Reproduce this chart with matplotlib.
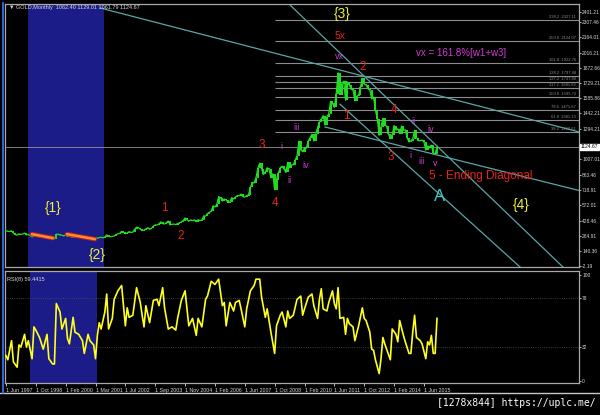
import numpy as np
import matplotlib
matplotlib.use("Agg")
import matplotlib.pyplot as plt
from matplotlib.lines import Line2D
import matplotlib.transforms as mtransforms

plt.rcParams['font.family'] = ['Liberation Sans', 'DejaVu Sans']

# monthly closes, one per bar (broker feed, Jun 1997 .. Jan 2016)
closes = [
    334, 326, 325, 332, 311, 296, 290,
    303, 297, 301, 310, 293, 296, 288, 273, 293, 292, 294, 288,
    287, 287, 280, 286, 268, 261, 255, 254, 299, 299, 292, 290,
    283, 293, 277, 281, 274, 272, 276, 288, 277, 279, 277, 273, 264, 270, 273,
    265, 267, 258, 264, 267, 270, 266, 273, 293, 279, 275, 279,
    282, 297, 303, 308, 327, 318, 304, 312, 324, 317, 318, 347,
    367, 360, 347, 334, 337, 350, 361, 346, 354, 375, 388, 386, 398, 416,
    399, 396, 410, 424, 388, 393, 395, 391, 400, 407, 416, 428, 453, 438,
    422, 435, 428, 435, 417, 437, 429, 433, 473, 470, 495, 505, 517,
    569, 556, 582, 654, 643, 613, 633, 623, 599, 604, 646, 632,
    650, 665, 662, 679, 655, 650, 665, 672, 743, 789, 783, 834,
    923, 971, 916, 864, 885, 928, 912, 833, 871, 718, 815, 880,
    928, 942, 916, 883, 979, 927, 954, 955, 1001, 1040, 1180, 1096,
    1081, 1117, 1113, 1180, 1213, 1245, 1181, 1248, 1307, 1357, 1385, 1421,
    1332, 1410, 1439, 1556, 1536, 1500, 1628, 1826, 1620, 1722, 1746, 1565,
    1737, 1711, 1668, 1664, 1560, 1604, 1614, 1692, 1773, 1719, 1712, 1675,
    1662, 1579, 1596, 1472, 1393, 1234, 1313, 1395, 1327, 1323, 1250, 1202,
    1240, 1326, 1284, 1296, 1250, 1322, 1282, 1287, 1210, 1172, 1183, 1199,
    1283, 1213, 1183, 1183, 1190, 1172, 1095, 1134, 1115, 1142, 1065, 1061,
    1124.67,
]

# RSI(8) (bar, value)
rsi_bar = [0, 1, 3, 4, 6, 7, 8, 10, 11, 12, 14, 15, 16, 18, 20, 22, 23, 25, 26, 27,
           29, 30, 32, 33, 34, 36, 37, 39, 41, 42, 44, 45, 47, 48, 49, 50, 51, 53, 54, 55,
           57, 58, 60, 62, 64, 65, 66, 68, 70, 72, 73, 74, 75, 77, 79, 81, 82, 84, 85, 87,
           89, 91, 92, 94, 96, 97, 98, 100, 102, 103, 105, 107, 108, 110, 112, 114, 116, 117, 118, 120,
           122, 123, 125, 126, 128, 129, 131, 133, 134, 136, 137, 139, 140, 142, 144, 145, 147, 148, 150, 151,
           152, 154, 156, 158, 159, 160, 162, 164, 165, 167, 168, 169, 170, 172, 173, 175, 176, 177, 178, 179,
           181, 182, 183, 184, 186, 187, 189, 191, 192, 193, 195, 196, 197, 198, 200, 201, 202, 203, 204, 206,
           207, 209, 210, 211, 213, 214, 216, 217, 218, 219, 220, 222, 223, 225, 226, 227, 228, 229, 230, 231]
rsi_val = [24, 20, 38, 18, 13, 34, 32, 44, 32, 38, 21, 51, 48, 41, 30, 44, 21, 16, 16, 73,
           65, 49, 59, 40, 35, 60, 46, 44, 38, 26, 44, 38, 34, 21, 43, 55, 49, 65, 82, 49,
           59, 77, 85, 90, 52, 69, 60, 62, 88, 74, 62, 51, 71, 55, 76, 77, 71, 88, 69, 49,
           51, 48, 59, 76, 85, 68, 52, 59, 43, 59, 51, 77, 80, 94, 91, 96, 71, 74, 52, 74,
           66, 74, 76, 68, 51, 68, 85, 90, 96, 96, 79, 60, 68, 46, 26, 52, 62, 65, 51, 66,
           59, 62, 77, 80, 62, 68, 79, 82, 71, 59, 77, 87, 68, 66, 74, 85, 73, 68, 88, 59,
           60, 44, 59, 54, 51, 38, 52, 69, 59, 57, 46, 30, 29, 20, 7, 21, 41, 35, 30, 20,
           49, 44, 37, 57, 43, 37, 26, 26, 46, 62, 41, 38, 35, 21, 37, 34, 43, 26, 26, 59]

date_ticks = [0, 16, 32, 48, 64, 80, 96, 112, 128, 144, 160, 176, 192, 208, 224]
date_labels = ["1 Jun 1997", "1 Oct 1998", "1 Feb 2000", "1 Mar 2001", "1 Jul 2002",
               "1 Sep 2003", "1 Nov 2004", "1 Feb 2006", "1 Jun 2007", "1 Oct 2008",
               "1 Feb 2010", "1 Jun 2011", "1 Oct 2012", "1 Feb 2014", "1 Jun 2015"]

price_ticks = [-2.19, 140.36, 284.91, 428.46, 572.01, 718.91, 863.46, 1007.01, 1294.21,
               1442.21, 1585.86, 1729.21, 1872.66, 2016.21, 2164.01, 2307.46, 2401.21]
last_price = 1124.67

fib_levels = [238.2, 200.0, 161.8, 138.2, 127.2, 117.2, 100.0, 78.6, 61.8, 38.2]
fib_prices = [2327.11, 2124.07, 1922.76, 1797.48, 1737.80, 1681.82, 1595.72, 1471.67, 1381.13, 1268.61]
fib_start = 144.2

# trend lines (bar, price) -> (bar, price)
trend_lines = [
    (50.4, 2438.8, 307.1, 1266.3),
    (171.0, 1313.2, 307.1, 712.9),
    (152.2, 2467.0, 298.5, -10.6),
    (179.0, 1529.0, 275.5, -10.6),
]
# red/orange wave lines inside the blue box
wave_segments = [(13.9, 300, 25.2, 262.6), (32.7, 300, 47.7, 253)]

RED, MAG, YEL = '#e8231e', '#d23cd2', '#f0f032'
wave_labels = [
    ("{3}", 180.1, 2382, YEL, 10), ("5x", 179, 2176, RED, 7.5), ("vx", 179, 1979, MAG, 6.5),
    ("2", 191.3, 1876, RED, 8.5), ("1", 182.2, 1416, RED, 8.5), ("iii", 156, 1313, MAG, 6.5),
    ("4", 207.9, 1473, RED, 8.5), ("ii", 218.6, 1369, MAG, 6.5), ("iv", 227.8, 1285, MAG, 6.5),
    ("i", 217, 1041, MAG, 6.5), ("iii", 222.9, 985, MAG, 6.5), ("v", 229.9, 966, MAG, 6.5),
    ("3", 206.3, 1032, RED, 8.5), ("3", 137.2, 1144, RED, 8.5), ("i", 147.9, 1126, MAG, 6.5),
    ("iv", 160.8, 947, MAG, 6.5), ("ii", 151.7, 807, MAG, 6.5), ("4", 144.2, 591, RED, 8.5),
    ("1", 84.7, 544, RED, 8.5), ("2", 93.8, 281, RED, 8.5), ("{1}", 25.2, 544, YEL, 10),
    ("{2}", 48.8, 103, YEL, 10), ("5 - Ending Diagonal", 254.6, 854, RED, 8.5),
    ("A", 232.6, 657, '#45c4c4', 12), ("{4}", 276, 572, YEL, 10),
    ("vx = 161.8%[w1+w3]", 243.8, 2017, MAG, 7),
]

W, H = 600, 415
fig = plt.figure(figsize=(6, 4.15), dpi=100, facecolor='black')
ax = fig.add_axes([5 / W, 1 - 267 / H, 574 / W, 263 / H], facecolor='black')
ax2 = fig.add_axes([5 / W, 1 - 383 / H, 574 / W, 112 / H], facecolor='black')

bars = np.arange(len(closes))
prev = np.r_[closes[0], closes[:-1]]
xlim = (-0.5, 307.1)

# ---- price panel
ax.axvspan(11.8, 52.5, color='#1c1c88', lw=0, zorder=0)
for x0, p0, x1, p1 in trend_lines:
    ax.plot([x0, x1], [p0, p1], color='#5aa6a6', lw=0.9, zorder=2)
ax.hlines(fib_prices, fib_start, xlim[1], color='#8c8c8c', lw=0.8, zorder=1)
trans = mtransforms.blended_transform_factory(ax.transAxes, ax.transData)
for lv, pr in zip(fib_levels, fib_prices):
    ax.text(0.995, pr + 8, f"{lv:.1f}  {pr:.2f}", transform=trans, ha='right', va='bottom',
            fontsize=3, color='#8c8c8c')
ax.axhline(last_price, color='#909090', lw=0.6, zorder=1)

ax.plot(bars, closes, color='#22dd22', lw=0.9, zorder=3)
ax.vlines(bars, np.minimum(prev, closes), np.maximum(prev, closes), color='#22dd22', lw=1.4, zorder=3)
for x0, p0, x1, p1 in wave_segments:
    ax.plot([x0, x1], [p0, p1], color='#c02020', lw=3.2, solid_capstyle='round', zorder=4)
    ax.plot([x0, x1], [p0, p1], color='#ff8a30', lw=1.8, solid_capstyle='round', zorder=5)

for txt, bx, pr, col, fs in wave_labels:
    ax.text(bx, pr, txt, color=col, fontsize=fs, ha='center', va='center', zorder=6)

ax.set_xlim(*xlim)
ax.set_ylim(-10.6, 2476)
ax.set_xticks([])
ax.yaxis.tick_right()
ax.set_yticks(price_ticks)
ax.set_yticklabels([f"{v:.2f}" for v in price_ticks])
ax.tick_params(axis='y', colors='#d8d8d8', labelsize=3.5, length=1.5, pad=0.8, width=0.6)
ax.text(1.003, last_price, f"{last_price:.2f}", transform=trans, ha='left', va='center',
        fontsize=3.5, color='black', bbox=dict(boxstyle='square,pad=0.1', fc='white', ec='white'))
for s in ax.spines.values():
    s.set_color('#a8a8a8')
    s.set_linewidth(0.9)

# ---- RSI panel
ax2.axvspan(12.9, 48.6, color='#1c1c88', lw=0, zorder=0)
ax2.axhline(78, color='#505050', lw=0.6, ls=':')
ax2.axhline(32, color='#505050', lw=0.6, ls=':')
ax2.plot(rsi_bar, rsi_val, color='#ffff1e', lw=1.2, zorder=3)
ax2.set_xlim(*xlim)
ax2.set_ylim(-1.9, 103.7)
ax2.yaxis.tick_right()
ax2.set_yticks([0, 32, 78, 100])
ax2.set_yticklabels(["0", "32", "78", "100"])
ax2.tick_params(axis='y', colors='#d8d8d8', labelsize=3.5, length=1.5, pad=0.8, width=0.6)
ax2.set_xticks(date_ticks)
ax2.set_xticklabels(date_labels, ha='left')
ax2.tick_params(axis='x', colors='#d8d8d8', labelsize=3.8, length=2, pad=1.5, width=0.6)
for s in ax2.spines.values():
    s.set_color('#a8a8a8')
    s.set_linewidth(0.9)
ax2.text(0.004, 0.95, "RSI(8) 59.4415", transform=ax2.transAxes, fontsize=4,
         color='#d8d8d8', va='top')

# ---- window decorations
fig.text(9 / W, 1 - 7 / H, "\u25bc GOLD,Monthly  1062.40 1129.01 1061.79 1124.67",
         fontsize=4, color='#d8d8d8', va='center')
fig.add_artist(Line2D([0, 1], [1 - 393 / H] * 2, color='#c8c8c8', lw=1))
fig.add_artist(Line2D([3 / W] * 2, [1 - 393 / H, 1 - 3 / H], color='#3c78ff', lw=1.2))
fig.text(0.992, 1 - 403 / H, "[1278x844] https://uplc.me/", ha='right', va='center',
         family='DejaVu Sans Mono', color='white', fontsize=7)

fig.savefig("out.png", dpi=100, facecolor='black')
